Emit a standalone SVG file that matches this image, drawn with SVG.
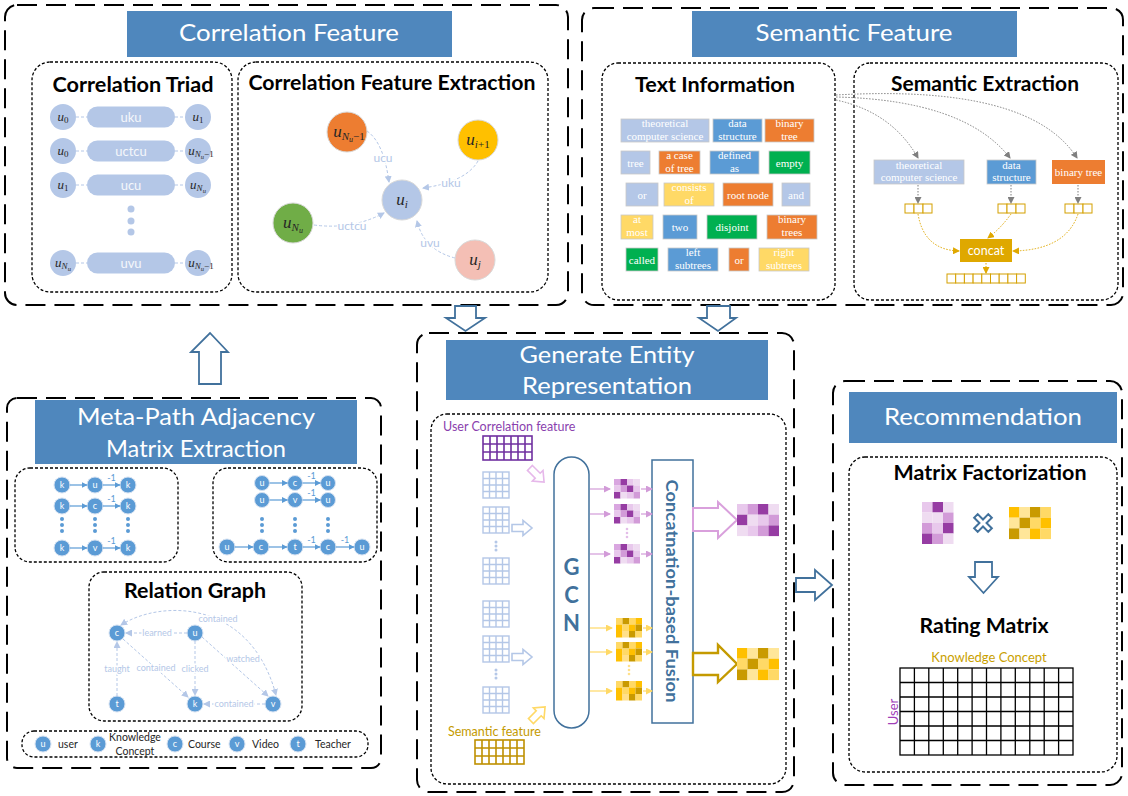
<svg xmlns="http://www.w3.org/2000/svg" xmlns:xlink="http://www.w3.org/1999/xlink" width="1128" height="796" viewBox="0 0 1128 796">
<style>
  .outer{fill:none;stroke:#000;stroke-width:2;stroke-dasharray:20 9}
  .inner{fill:#fff;stroke:#000;stroke-width:1.3;stroke-dasharray:3 2}
  .tbox{fill:#4f87bd}
  .ttl{font-family:Lato,"Open Sans",sans-serif;font-size:23px;fill:#fff;text-anchor:middle}
  .hd{font-family:Lato,"Open Sans",sans-serif;font-weight:bold;font-size:20px;fill:#000;text-anchor:middle}
  .m{font-family:"Liberation Serif","DejaVu Serif",serif;font-style:italic;fill:#262626;text-anchor:middle}
  .n{font-style:normal}
  .pill{fill:#b4c7e7}
  .pt{font-family:Lato,sans-serif;font-size:13px;fill:#f4f7fb;text-anchor:middle}
  .lbdash{fill:none;stroke:#b4c7e7;stroke-width:1;stroke-dasharray:3 2}
  .elab{font-family:Lato,sans-serif;font-size:12px;fill:#b4c7e7;text-anchor:middle;paint-order:stroke;stroke:#fff;stroke-width:3px}
  .rl{font-family:Lato,sans-serif;font-size:9px;fill:#b4c7e7;text-anchor:middle;paint-order:stroke;stroke:#fff;stroke-width:3px}
  .tb{font-family:"Liberation Serif","Times New Roman",serif;font-size:11px;fill:#fff;text-anchor:middle}
  .blk{stroke:#c8c8c8;stroke-width:0.8}
  .lb{fill:#b4c7e7}.bl{fill:#5b9bd5}.or{fill:#ed7d31}.gr{fill:#00b050}.ye{fill:#ffd966}
  .vec{fill:#fff;stroke:#d4a000;stroke-width:1}
  .grey{fill:none;stroke:#7f7f7f;stroke-width:1;stroke-dasharray:1.5 1.5}
  .gold{fill:none;stroke:#e0a800;stroke-width:1;stroke-dasharray:1.5 1.5}
  .mc{fill:#5b9bd5;stroke:#d6e2f2;stroke-width:1}
  .mt{font-family:Lato,sans-serif;font-size:9px;fill:#fff;text-anchor:middle}
  .ma{stroke:#5b9bd5;stroke-width:1.2;fill:none}
  .m1{font-family:Lato,sans-serif;font-size:9px;fill:#5b9bd5;text-anchor:middle}
  .mdot{fill:#5b9bd5}
  .leg{font-family:Lato,sans-serif;font-size:10.5px;fill:#262626}
  .blockarrow{fill:#fff;stroke:#41719c;stroke-width:1.8}
  .gcn{fill:#fff;stroke:#41719c;stroke-width:1.5}
  .gcnt{font-family:Lato,"Open Sans",sans-serif;font-weight:bold;font-size:22px;fill:#41719c;text-anchor:middle}
</style>
<defs>
  <marker id="aLB" markerUnits="userSpaceOnUse" markerWidth="7" markerHeight="7" refX="6" refY="3.5" orient="auto"><path d="M0,0 L7,3.5 L0,7 z" fill="#b4c7e7"/></marker>
  <marker id="aLBs" markerUnits="userSpaceOnUse" markerWidth="7" markerHeight="7" refX="1" refY="3.5" orient="auto"><path d="M7,0 L0,3.5 L7,7 z" fill="#b4c7e7"/></marker>
  <marker id="aGrey" markerUnits="userSpaceOnUse" markerWidth="7" markerHeight="7" refX="6" refY="3.5" orient="auto"><path d="M0,0 L7,3.5 L0,7 z" fill="#7f7f7f"/></marker>
  <marker id="aGold" markerUnits="userSpaceOnUse" markerWidth="7" markerHeight="7" refX="6" refY="3.5" orient="auto"><path d="M0,0 L7,3.5 L0,7 z" fill="#e0a800"/></marker>
  <marker id="aBlue" markerUnits="userSpaceOnUse" markerWidth="6" markerHeight="6" refX="5.5" refY="3" orient="auto"><path d="M0,0 L6,3 L0,6 z" fill="#5b9bd5"/></marker>
  <marker id="aPur" markerUnits="userSpaceOnUse" markerWidth="7" markerHeight="7" refX="6" refY="3.5" orient="auto"><path d="M0,0 L7,3.5 L0,7 z" fill="#d29bd8"/></marker>
  <marker id="aYel" markerUnits="userSpaceOnUse" markerWidth="7" markerHeight="7" refX="6" refY="3.5" orient="auto"><path d="M0,0 L7,3.5 L0,7 z" fill="#ffd966"/></marker>

  <!-- 4x4 light blue feature grid -->
  <g id="g44"><rect x="0" y="0" width="26" height="26" fill="#fff" stroke="#b4c7e7" stroke-width="1.4"/>
    <path d="M6.5,0V26M13,0V26M19.5,0V26M0,6.5H26M0,13H26M0,19.5H26" stroke="#b4c7e7" stroke-width="1.4"/></g>
  <!-- 7x3 feature grids -->
  <g id="g73"><rect x="0" y="0" width="49" height="24" fill="#fff" stroke-width="1.6"/>
    <path d="M7,0V24M14,0V24M21,0V24M28,0V24M35,0V24M42,0V24M0,8H49M0,16H49" stroke-width="1.6"/></g>
  <!-- small hollow arrow pointing right -->
  <polygon id="sArrow" points="-10,-3.5 1,-3.5 1,-7.5 10,0 1,7.5 1,3.5 -10,3.5" fill="#fff" stroke-width="1.6"/>
  <!-- small purple embedding -->
  <g id="smP">
    <rect x="0" y="0" width="6.5" height="6.5" fill="#d9a6e0"/><rect x="6.5" y="0" width="6.5" height="6.5" fill="#963ca3"/><rect x="13" y="0" width="6.5" height="6.5" fill="#e8c8ec"/><rect x="19.5" y="0" width="6.5" height="6.5" fill="#efdcf1"/>
    <rect x="0" y="6.5" width="6.5" height="6.5" fill="#e8c8ec"/><rect x="6.5" y="6.5" width="6.5" height="6.5" fill="#d29bd8"/><rect x="13" y="6.5" width="6.5" height="6.5" fill="#963ca3"/><rect x="19.5" y="6.5" width="6.5" height="6.5" fill="#e8c8ec"/>
    <rect x="0" y="13" width="6.5" height="6.5" fill="#963ca3"/><rect x="6.5" y="13" width="6.5" height="6.5" fill="#efdcf1"/><rect x="13" y="13" width="6.5" height="6.5" fill="#e8c8ec"/><rect x="19.5" y="13" width="6.5" height="6.5" fill="#d29bd8"/>
  </g>
  <!-- small gold embedding -->
  <g id="smY">
    <rect x="0" y="0" width="6.5" height="6.5" fill="#ffd966"/><rect x="6.5" y="0" width="6.5" height="6.5" fill="#c99a00"/><rect x="13" y="0" width="6.5" height="6.5" fill="#ffd966"/><rect x="19.5" y="0" width="6.5" height="6.5" fill="#ffc000"/>
    <rect x="0" y="6.5" width="6.5" height="6.5" fill="#ffc000"/><rect x="6.5" y="6.5" width="6.5" height="6.5" fill="#ffd966"/><rect x="13" y="6.5" width="6.5" height="6.5" fill="#ffc000"/><rect x="19.5" y="6.5" width="6.5" height="6.5" fill="#c99a00"/>
    <rect x="0" y="13" width="6.5" height="6.5" fill="#ffc000"/><rect x="6.5" y="13" width="6.5" height="6.5" fill="#ffe08a"/><rect x="13" y="13" width="6.5" height="6.5" fill="#c99a00"/><rect x="19.5" y="13" width="6.5" height="6.5" fill="#ffd966"/>
  </g>
</defs>

<rect width="1128" height="796" fill="#fff"/>

<!-- ===== Correlation Feature ===== -->
<g id="correlation-feature">
  <rect class="outer" x="5" y="5" width="563" height="300" rx="12"/>
  <rect class="tbox" x="127" y="11" width="325" height="46"/>
  <text class="ttl" x="289" y="41" textLength="220" lengthAdjust="spacingAndGlyphs">Correlation Feature</text>

  <g id="correlation-triad">
    <rect class="inner" x="32" y="62" width="200" height="230" rx="18"/>
    <text class="hd" x="133" y="92" textLength="161" lengthAdjust="spacingAndGlyphs">Correlation Triad</text>
    <path class="lbdash" d="M76,117H87M175,117H185M76,151H87M175,151H185M76,185H87M175,185H185M76,263H87M175,263H185"/>
    <g id="triad-uku">
      <circle class="pill" cx="63" cy="117" r="13"/><rect class="pill" x="87" y="106.5" width="88" height="21" rx="10.5"/><circle class="pill" cx="198" cy="117" r="13"/>
      <text class="m" x="63" y="121" font-size="13">u<tspan class="n" font-size="9" dy="2">0</tspan></text>
      <text class="pt" x="131" y="121.5">uku</text>
      <text class="m" x="198" y="121" font-size="13">u<tspan class="n" font-size="9" dy="2">1</tspan></text>
    </g>
    <g id="triad-uctcu">
      <circle class="pill" cx="63" cy="151" r="13"/><rect class="pill" x="87" y="140.5" width="88" height="21" rx="10.5"/><circle class="pill" cx="198" cy="151" r="13"/>
      <text class="m" x="63" y="155" font-size="13">u<tspan class="n" font-size="9" dy="2">0</tspan></text>
      <text class="pt" x="131" y="155.5">uctcu</text>
      <text class="m" x="201" y="155" font-size="13">u<tspan font-size="9" dy="2">N</tspan><tspan font-size="6.5" dy="2">u</tspan><tspan class="n" font-size="9" dy="-2">−1</tspan></text>
    </g>
    <g id="triad-ucu">
      <circle class="pill" cx="63" cy="185" r="13"/><rect class="pill" x="87" y="174.5" width="88" height="21" rx="10.5"/><circle class="pill" cx="198" cy="185" r="13"/>
      <text class="m" x="63" y="189" font-size="13">u<tspan class="n" font-size="9" dy="2">1</tspan></text>
      <text class="pt" x="131" y="189.5">ucu</text>
      <text class="m" x="198" y="189" font-size="13">u<tspan font-size="9" dy="2">N</tspan><tspan font-size="6.5" dy="2">u</tspan></text>
    </g>
    <circle class="pill" cx="131" cy="209" r="3.5"/><circle class="pill" cx="131" cy="221" r="3.5"/><circle class="pill" cx="131" cy="232" r="3.5"/>
    <g id="triad-uvu">
      <circle class="pill" cx="63" cy="263" r="13"/><rect class="pill" x="87" y="252.5" width="88" height="21" rx="10.5"/><circle class="pill" cx="198" cy="263" r="13"/>
      <text class="m" x="63" y="267" font-size="13">u<tspan font-size="9" dy="2">N</tspan><tspan font-size="6.5" dy="2">u</tspan></text>
      <text class="pt" x="131" y="267.5">uvu</text>
      <text class="m" x="201" y="267" font-size="13">u<tspan font-size="9" dy="2">N</tspan><tspan font-size="6.5" dy="2">u</tspan><tspan class="n" font-size="9" dy="-2">−1</tspan></text>
    </g>
  </g>

  <g id="correlation-extraction">
    <rect class="inner" x="238" y="62" width="310" height="230" rx="18"/>
    <text class="hd" x="392" y="90" textLength="287" lengthAdjust="spacingAndGlyphs">Correlation Feature Extraction</text>
    <g id="cfe-edges">
      <path class="lbdash" d="M367,131 C380,140 386,160 389,182" marker-end="url(#aLB)"/>
      <path class="lbdash" d="M478,161 Q466,182 423,188" marker-end="url(#aLB)"/>
      <path class="lbdash" d="M314,225 Q352,230 384,213" marker-end="url(#aLB)"/>
      <path class="lbdash" d="M455,258 Q424,250 417,221" marker-end="url(#aLB)"/>
      <text class="elab" x="383" y="162">ucu</text>
      <text class="elab" x="451" y="187">uku</text>
      <text class="elab" x="352" y="230">uctcu</text>
      <text class="elab" x="430" y="247">uvu</text>
    </g>
    <g id="node-uN1"><circle cx="347" cy="132" r="20" fill="#ed7d31" stroke="#d9d9d9"/>
      <text class="m" x="349" y="137" font-size="17">u<tspan font-size="11" dy="3">N</tspan><tspan font-size="8" dy="2">u</tspan><tspan class="n" font-size="11" dy="-2">−1</tspan></text></g>
    <g id="node-ui1"><circle cx="478" cy="140" r="20" fill="#ffc000" stroke="#d9d9d9"/>
      <text class="m" x="478" y="145" font-size="17">u<tspan font-size="11" dy="3">i</tspan><tspan class="n" font-size="11">+1</tspan></text></g>
    <g id="node-ui"><circle cx="402" cy="200" r="20" fill="#b4c7e7" stroke="#d9d9d9"/>
      <text class="m" x="402" y="205" font-size="17">u<tspan font-size="11" dy="3">i</tspan></text></g>
    <g id="node-uN"><circle cx="293" cy="223" r="20" fill="#70ad47" stroke="#d9d9d9"/>
      <text class="m" x="293" y="228" font-size="17">u<tspan font-size="11" dy="3">N</tspan><tspan font-size="8" dy="2">u</tspan></text></g>
    <g id="node-uj"><circle cx="475" cy="260" r="20" fill="#f4bfb5" stroke="#d9d9d9"/>
      <text class="m" x="475" y="265" font-size="17">u<tspan font-size="11" dy="3">j</tspan></text></g>
  </g>
</g>

<!-- ===== Semantic Feature ===== -->
<g id="semantic-feature">
  <rect class="outer" x="582" y="8" width="541" height="297" rx="12"/>
  <rect class="tbox" x="692" y="11" width="325" height="46"/>
  <text class="ttl" x="854" y="41" textLength="197" lengthAdjust="spacingAndGlyphs">Semantic Feature</text>

  <g id="text-information">
    <rect class="inner" x="602" y="63" width="233" height="237" rx="16"/>
    <text class="hd" x="715" y="92" textLength="160" lengthAdjust="spacingAndGlyphs">Text Information</text>
    <!-- row 1 -->
    <rect class="lb blk" x="621" y="119" width="88" height="23"/><text class="tb" x="665" y="127"><tspan x="665">theoretical</tspan><tspan x="665" dy="13">computer science</tspan></text>
    <rect class="bl blk" x="713" y="119" width="49" height="23"/><text class="tb" x="737.5" y="127"><tspan x="737.5">data</tspan><tspan x="737.5" dy="13">structure</tspan></text>
    <rect class="or blk" x="765" y="119" width="49" height="23"/><text class="tb" x="789.5" y="127"><tspan x="789.5">binary</tspan><tspan x="789.5" dy="13">tree</tspan></text>
    <!-- row 2 -->
    <rect class="lb blk" x="621" y="151" width="29" height="23"/><text class="tb" x="635.5" y="166.5">tree</text>
    <rect class="or blk" x="659" y="151" width="41" height="23"/><text class="tb" x="679.5" y="159"><tspan x="679.5">a case</tspan><tspan x="679.5" dy="13">of tree</tspan></text>
    <rect class="bl blk" x="710" y="151" width="49" height="23"/><text class="tb" x="734.5" y="159"><tspan x="734.5">defined</tspan><tspan x="734.5" dy="13">as</tspan></text>
    <rect class="gr blk" x="769" y="151" width="41" height="23"/><text class="tb" x="789.5" y="166.5">empty</text>
    <!-- row 3 -->
    <rect class="lb blk" x="626" y="183" width="32" height="23"/><text class="tb" x="642" y="198.5">or</text>
    <rect class="ye blk" x="664" y="183" width="50" height="23"/><text class="tb" x="689" y="191"><tspan x="689">consists</tspan><tspan x="689" dy="13">of</tspan></text>
    <rect class="or blk" x="723" y="183" width="50" height="23"/><text class="tb" x="748" y="198.5">root node</text>
    <rect class="lb blk" x="782" y="183" width="28" height="23"/><text class="tb" x="796" y="198.5">and</text>
    <!-- row 4 -->
    <rect class="ye blk" x="621" y="215" width="32" height="24"/><text class="tb" x="637" y="223"><tspan x="637">at</tspan><tspan x="637" dy="13">most</tspan></text>
    <rect class="bl blk" x="663" y="215" width="34" height="24"/><text class="tb" x="680" y="231">two</text>
    <rect class="gr blk" x="707" y="215" width="50" height="24"/><text class="tb" x="732" y="231">disjoint</text>
    <rect class="or blk" x="767" y="215" width="50" height="24"/><text class="tb" x="792" y="223"><tspan x="792">binary</tspan><tspan x="792" dy="13">trees</tspan></text>
    <!-- row 5 -->
    <rect class="gr blk" x="626" y="248" width="32" height="23"/><text class="tb" x="642" y="263.5">called</text>
    <rect class="bl blk" x="668" y="248" width="50" height="23"/><text class="tb" x="693" y="256"><tspan x="693">left</tspan><tspan x="693" dy="13">subtrees</tspan></text>
    <rect class="or blk" x="729" y="248" width="20" height="23"/><text class="tb" x="739" y="263.5">or</text>
    <rect class="ye blk" x="759" y="248" width="50" height="23"/><text class="tb" x="784" y="256"><tspan x="784">right</tspan><tspan x="784" dy="13">subtrees</tspan></text>
  </g>

  <g id="semantic-extraction">
    <rect class="inner" x="854" y="63" width="264" height="237" rx="16"/>
    <text class="hd" x="985" y="91" textLength="188" lengthAdjust="spacingAndGlyphs">Semantic Extraction</text>
    <g id="kw-theoretical"><rect class="lb blk" x="874" y="160" width="90" height="24"/>
      <text class="tb" x="919" y="169"><tspan x="919">theoretical</tspan><tspan x="919" dy="12">computer science</tspan></text></g>
    <g id="kw-data"><rect class="bl blk" x="987" y="160" width="49" height="24"/>
      <text class="tb" x="1011.5" y="169"><tspan x="1011.5">data</tspan><tspan x="1011.5" dy="12">structure</tspan></text></g>
    <g id="kw-binary"><rect class="or" x="1052" y="160" width="53" height="24"/>
      <text class="tb" x="1078.5" y="175.5">binary tree</text></g>
    <g id="vec-1"><rect class="vec" x="905" y="204" width="9" height="9"/><rect class="vec" x="914" y="204" width="9" height="9"/><rect class="vec" x="923" y="204" width="9" height="9"/></g>
    <g id="vec-2"><rect class="vec" x="998" y="204" width="9" height="9"/><rect class="vec" x="1007" y="204" width="9" height="9"/><rect class="vec" x="1016" y="204" width="9" height="9"/></g>
    <g id="vec-3"><rect class="vec" x="1065" y="204" width="9" height="9"/><rect class="vec" x="1074" y="204" width="9" height="9"/><rect class="vec" x="1083" y="204" width="9" height="9"/></g>
    <g id="concat"><rect x="960" y="239" width="52" height="23" fill="#dfa800"/>
      <text x="986" y="255" font-family="Lato,sans-serif" font-size="12.5" fill="#fff" text-anchor="middle">concat</text></g>
    <g id="vec-out">
      <rect class="vec" x="947" y="274" width="8.7" height="9"/><rect class="vec" x="955.7" y="274" width="8.7" height="9"/><rect class="vec" x="964.4" y="274" width="8.7" height="9"/>
      <rect class="vec" x="973.1" y="274" width="8.7" height="9"/><rect class="vec" x="981.8" y="274" width="8.7" height="9"/><rect class="vec" x="990.5" y="274" width="8.7" height="9"/>
      <rect class="vec" x="999.2" y="274" width="8.7" height="9"/><rect class="vec" x="1007.9" y="274" width="8.7" height="9"/><rect class="vec" x="1016.6" y="274" width="8.7" height="9"/>
    </g>
  </g>
</g>

<!-- ===== Meta-Path Adjacency Matrix Extraction ===== -->
<g id="meta-path">
  <rect class="outer" x="7" y="398" width="374" height="370" rx="10"/>
  <rect class="tbox" x="35" y="400" width="322" height="64"/>
  <text class="ttl" x="196" y="425" textLength="238" lengthAdjust="spacingAndGlyphs">Meta-Path Adjacency</text>
  <text class="ttl" x="196" y="457" textLength="180" lengthAdjust="spacingAndGlyphs">Matrix Extraction</text>

  <g id="metapath-k">
    <rect class="inner" x="15" y="468" width="163" height="94" rx="15"/>
    <g class="mdot"><circle cx="62" cy="519" r="2"/><circle cx="62" cy="525" r="2"/><circle cx="62" cy="531" r="2"/>
      <circle cx="95" cy="519" r="2"/><circle cx="95" cy="525" r="2"/><circle cx="95" cy="531" r="2"/>
      <circle cx="128" cy="519" r="2"/><circle cx="128" cy="525" r="2"/><circle cx="128" cy="531" r="2"/></g>
    <circle class="mc" cx="62" cy="485" r="8"/><circle class="mc" cx="95" cy="485" r="8"/><circle class="mc" cx="128" cy="485" r="8"/>
    <text class="mt" x="62" y="488">k</text><text class="mt" x="95" y="488">u</text><text class="mt" x="128" y="488">k</text>
    <circle class="mc" cx="62" cy="506" r="8"/><circle class="mc" cx="95" cy="506" r="8"/><circle class="mc" cx="128" cy="506" r="8"/>
    <text class="mt" x="62" y="509">k</text><text class="mt" x="95" y="509">c</text><text class="mt" x="128" y="509">k</text>
    <circle class="mc" cx="62" cy="548" r="8"/><circle class="mc" cx="95" cy="548" r="8"/><circle class="mc" cx="128" cy="548" r="8"/>
    <text class="mt" x="62" y="551">k</text><text class="mt" x="95" y="551">v</text><text class="mt" x="128" y="551">k</text>
    <text class="m1" x="111.5" y="481">-1</text><text class="m1" x="111.5" y="502">-1</text><text class="m1" x="111.5" y="544">-1</text>
  </g>

  <g id="metapath-u">
    <rect class="inner" x="213" y="468" width="164" height="94" rx="15"/>
    <g class="mdot"><circle cx="262" cy="519" r="2"/><circle cx="262" cy="525" r="2"/><circle cx="262" cy="531" r="2"/>
      <circle cx="295" cy="519" r="2"/><circle cx="295" cy="525" r="2"/><circle cx="295" cy="531" r="2"/>
      <circle cx="328" cy="519" r="2"/><circle cx="328" cy="525" r="2"/><circle cx="328" cy="531" r="2"/></g>
    <circle class="mc" cx="262" cy="483" r="7.5"/><circle class="mc" cx="295" cy="483" r="7.5"/><circle class="mc" cx="328" cy="483" r="7.5"/>
    <text class="mt" x="262" y="486">u</text><text class="mt" x="295" y="486">c</text><text class="mt" x="328" y="486">u</text>
    <circle class="mc" cx="262" cy="500" r="7.5"/><circle class="mc" cx="295" cy="500" r="7.5"/><circle class="mc" cx="328" cy="500" r="7.5"/>
    <text class="mt" x="262" y="503">u</text><text class="mt" x="295" y="503">v</text><text class="mt" x="328" y="503">u</text>
    <circle class="mc" cx="227" cy="547" r="8"/><circle class="mc" cx="261" cy="547" r="8"/><circle class="mc" cx="295" cy="547" r="8"/><circle class="mc" cx="328" cy="547" r="8"/><circle class="mc" cx="362" cy="547" r="8"/>
    <text class="mt" x="227" y="550">u</text><text class="mt" x="261" y="550">c</text><text class="mt" x="295" y="550">t</text><text class="mt" x="328" y="550">c</text><text class="mt" x="362" y="550">u</text>
    <text class="m1" x="311.5" y="479">-1</text><text class="m1" x="311.5" y="496">-1</text>
    <text class="m1" x="311.5" y="543">-1</text><text class="m1" x="345" y="543">-1</text>
  </g>

  <g id="relation-graph">
    <rect class="inner" x="89" y="572" width="213" height="149" rx="15"/>
    <text class="hd" x="195" y="598" textLength="142" lengthAdjust="spacingAndGlyphs">Relation Graph</text>
    <g id="rg-c"><circle class="mc" cx="117" cy="633" r="8"/><text class="mt" x="117" y="636">c</text></g>
    <g id="rg-u"><circle class="mc" cx="195" cy="633" r="8"/><text class="mt" x="195" y="636">u</text></g>
    <g id="rg-t"><circle class="mc" cx="117" cy="704" r="8"/><text class="mt" x="117" y="707">t</text></g>
    <g id="rg-k"><circle class="mc" cx="195" cy="704" r="8"/><text class="mt" x="195" y="707">k</text></g>
    <g id="rg-v"><circle class="mc" cx="273" cy="704" r="8"/><text class="mt" x="273" y="707">v</text></g>
  </g>

  <g id="legend">
    <rect class="inner" x="22" y="731" width="346" height="26" rx="12"/>
    <circle class="mc" cx="43" cy="744" r="8"/><text class="mt" x="43" y="747">u</text><text class="leg" x="58" y="748">user</text>
    <circle class="mc" cx="98" cy="744" r="8"/><text class="mt" x="98" y="747">k</text>
    <text class="leg" x="135" y="741" text-anchor="middle">Knowledge</text><text class="leg" x="135" y="755" text-anchor="middle">Concept</text>
    <circle class="mc" cx="175" cy="744" r="8"/><text class="mt" x="175" y="747">c</text><text class="leg" x="188" y="748">Course</text>
    <circle class="mc" cx="237" cy="744" r="8"/><text class="mt" x="237" y="747">v</text><text class="leg" x="252" y="748">Video</text>
    <circle class="mc" cx="298" cy="744" r="8"/><text class="mt" x="298" y="747">t</text><text class="leg" x="315" y="748">Teacher</text>
  </g>
</g>

<!-- ===== Generate Entity Representation ===== -->
<g id="generate-entity">
  <rect class="outer" x="417" y="333" width="377" height="459" rx="12"/>
  <rect class="tbox" x="446" y="340" width="322" height="60"/>
  <text class="ttl" x="607" y="363" textLength="175" lengthAdjust="spacingAndGlyphs">Generate Entity</text>
  <text class="ttl" x="607" y="394" textLength="170" lengthAdjust="spacingAndGlyphs">Representation</text>

  <rect class="inner" x="431" y="414" width="355" height="370" rx="16"/>
  <g id="user-feature">
    <text x="443" y="431" font-family="Lato,sans-serif" font-size="12.5" fill="#8a3fae">User Correlation feature</text>
    <use href="#g73" x="483" y="436" stroke="#7030a0"/>
  </g>
  <g id="adjacency-grids">
    <use href="#g44" x="483" y="472"/><use href="#g44" x="483" y="507"/><use href="#g44" x="483" y="558"/>
    <use href="#g44" x="483" y="601"/><use href="#g44" x="483" y="636"/><use href="#g44" x="483" y="687"/>
    <circle cx="496" cy="542" r="1.5" fill="#b4c7e7"/><circle cx="496" cy="546" r="1.5" fill="#b4c7e7"/><circle cx="496" cy="550" r="1.5" fill="#b4c7e7"/>
    <circle cx="496" cy="670" r="1.5" fill="#b4c7e7"/><circle cx="496" cy="674" r="1.5" fill="#b4c7e7"/><circle cx="496" cy="678" r="1.5" fill="#b4c7e7"/>
  </g>
  <g id="semantic-input">
    <text x="448" y="736" font-family="Lato,sans-serif" font-size="12.5" fill="#c49a00">Semantic feature</text>
    <use href="#g73" x="475" y="740" stroke="#bf9000"/>
  </g>
  <g id="input-arrows">
    <use href="#sArrow" transform="translate(537,475) rotate(45)" stroke="#e6b8ea"/>
    <use href="#sArrow" transform="translate(522,528)" stroke="#b4c7e7"/>
    <use href="#sArrow" transform="translate(522,657)" stroke="#b4c7e7"/>
    <use href="#sArrow" transform="translate(538,714) rotate(-45)" stroke="#ffd966"/>
  </g>
  <g id="gcn">
    <rect class="gcn" x="554" y="457" width="35" height="271" rx="17.5"/>
    <text class="gcnt" x="571.5" y="575">G</text>
    <text class="gcnt" x="571.5" y="603">C</text>
    <text class="gcnt" x="571.5" y="631">N</text>
  </g>
  <g id="user-embeddings">
    <use href="#smP" x="614" y="479"/><use href="#smP" x="614" y="504"/><use href="#smP" x="614" y="544"/>
    <circle cx="627" cy="529" r="1.3" fill="#e3bde8"/><circle cx="627" cy="533" r="1.3" fill="#e3bde8"/><circle cx="627" cy="537" r="1.3" fill="#e3bde8"/>
  </g>
  <g id="concept-embeddings">
    <use href="#smY" x="616" y="618"/><use href="#smY" x="616" y="642"/><use href="#smY" x="616" y="681"/>
    <circle cx="629" cy="666" r="1.3" fill="#ffe08a"/><circle cx="629" cy="670" r="1.3" fill="#ffe08a"/><circle cx="629" cy="674" r="1.3" fill="#ffe08a"/>
  </g>
  <g id="fusion">
    <rect class="gcn" x="652" y="460" width="41" height="263"/>
    <text transform="translate(666,591) rotate(90)" font-family="Lato,'Open Sans',sans-serif" font-weight="bold" font-size="17" fill="#41719c" text-anchor="middle" textLength="223" lengthAdjust="spacingAndGlyphs">Concatnation-based Fusion</text>
  </g>
  <g id="output-arrows">
    <polygon points="693,508 718,508 718,502 737,520 718,538 718,531 693,531" fill="#fff" stroke="#d9a0dc" stroke-width="2"/>
    <polygon points="693,653 718,653 718,645 737,664 718,682 718,675 693,675" fill="#fff" stroke="#c49a00" stroke-width="2.4"/>
  </g>
  <g id="user-representation">
    <rect x="737" y="504" width="10.5" height="10.7" fill="#e8c8ec"/><rect x="747.5" y="504" width="10.5" height="10.7" fill="#d29bd8"/><rect x="758" y="504" width="10.5" height="10.7" fill="#963ca3"/><rect x="768.5" y="504" width="10.5" height="10.7" fill="#efdcf1"/>
    <rect x="737" y="514.7" width="10.5" height="10.7" fill="#963ca3"/><rect x="747.5" y="514.7" width="10.5" height="10.7" fill="#efdcf1"/><rect x="758" y="514.7" width="10.5" height="10.7" fill="#e8c8ec"/><rect x="768.5" y="514.7" width="10.5" height="10.7" fill="#d29bd8"/>
    <rect x="737" y="525.4" width="10.5" height="10.7" fill="#efdcf1"/><rect x="747.5" y="525.4" width="10.5" height="10.7" fill="#e8c8ec"/><rect x="758" y="525.4" width="10.5" height="10.7" fill="#d29bd8"/><rect x="768.5" y="525.4" width="10.5" height="10.7" fill="#963ca3"/>
  </g>
  <g id="concept-representation">
    <rect x="737" y="648" width="10.5" height="10.7" fill="#ffc000"/><rect x="747.5" y="648" width="10.5" height="10.7" fill="#ffe699"/><rect x="758" y="648" width="10.5" height="10.7" fill="#c99a00"/><rect x="768.5" y="648" width="10.5" height="10.7" fill="#ffe699"/>
    <rect x="737" y="658.7" width="10.5" height="10.7" fill="#ffd966"/><rect x="747.5" y="658.7" width="10.5" height="10.7" fill="#c99a00"/><rect x="758" y="658.7" width="10.5" height="10.7" fill="#ffd966"/><rect x="768.5" y="658.7" width="10.5" height="10.7" fill="#ffc000"/>
    <rect x="737" y="669.4" width="10.5" height="10.7" fill="#c99a00"/><rect x="747.5" y="669.4" width="10.5" height="10.7" fill="#ffe699"/><rect x="758" y="669.4" width="10.5" height="10.7" fill="#ffc000"/><rect x="768.5" y="669.4" width="10.5" height="10.7" fill="#ffd966"/>
  </g>
</g>

<!-- ===== Recommendation ===== -->
<g id="recommendation">
  <rect class="outer" x="833" y="381" width="289" height="404" rx="12"/>
  <rect class="tbox" x="849" y="392" width="268" height="51"/>
  <text class="ttl" x="983" y="425" textLength="198" lengthAdjust="spacingAndGlyphs">Recommendation</text>
  <rect class="inner" x="849" y="457" width="268" height="315" rx="16"/>
  <text class="hd" x="990" y="480" textLength="193" lengthAdjust="spacingAndGlyphs">Matrix Factorization</text>
  <g id="user-factor">
    <rect x="922" y="502" width="10.5" height="10.5" fill="#e8c8ec"/><rect x="932.5" y="502" width="10.5" height="10.5" fill="#963ca3"/><rect x="943" y="502" width="10.5" height="10.5" fill="#efdcf1"/>
    <rect x="922" y="512.5" width="10.5" height="10.5" fill="#efdcf1"/><rect x="932.5" y="512.5" width="10.5" height="10.5" fill="#efdcf1"/><rect x="943" y="512.5" width="10.5" height="10.5" fill="#d29bd8"/>
    <rect x="922" y="523" width="10.5" height="10.5" fill="#d29bd8"/><rect x="932.5" y="523" width="10.5" height="10.5" fill="#e8c8ec"/><rect x="943" y="523" width="10.5" height="10.5" fill="#963ca3"/>
    <rect x="922" y="533.5" width="10.5" height="10.5" fill="#963ca3"/><rect x="932.5" y="533.5" width="10.5" height="10.5" fill="#d29bd8"/><rect x="943" y="533.5" width="10.5" height="10.5" fill="#efdcf1"/>
  </g>
  <polygon transform="translate(983,523) rotate(45)" points="-2.5,-10 2.5,-10 2.5,-2.5 10,-2.5 10,2.5 2.5,2.5 2.5,10 -2.5,10 -2.5,2.5 -10,2.5 -10,-2.5 -2.5,-2.5" fill="#fff" stroke="#41719c" stroke-width="2"/>
  <g id="concept-factor">
    <rect x="1009" y="507" width="10.5" height="10.7" fill="#ffc000"/><rect x="1019.5" y="507" width="10.5" height="10.7" fill="#ffe699"/><rect x="1030" y="507" width="10.5" height="10.7" fill="#c99a00"/><rect x="1040.5" y="507" width="10.5" height="10.7" fill="#ffd966"/>
    <rect x="1009" y="517.7" width="10.5" height="10.7" fill="#ffe699"/><rect x="1019.5" y="517.7" width="10.5" height="10.7" fill="#c99a00"/><rect x="1030" y="517.7" width="10.5" height="10.7" fill="#ffd966"/><rect x="1040.5" y="517.7" width="10.5" height="10.7" fill="#ffc000"/>
    <rect x="1009" y="528.4" width="10.5" height="10.7" fill="#c99a00"/><rect x="1019.5" y="528.4" width="10.5" height="10.7" fill="#ffe699"/><rect x="1030" y="528.4" width="10.5" height="10.7" fill="#ffc000"/><rect x="1040.5" y="528.4" width="10.5" height="10.7" fill="#ffd966"/>
  </g>
  <polygon class="blockarrow" points="975,562 992,562 992,577 998,577 983.5,593 969,577 975,577"/>
  <text class="hd" x="984" y="633" textLength="129" lengthAdjust="spacingAndGlyphs">Rating Matrix</text>
  <text x="989" y="662" font-family="Lato,sans-serif" font-size="13" fill="#c9a000" text-anchor="middle">Knowledge Concept</text>
  <text transform="translate(898,712) rotate(-90)" font-family="Lato,sans-serif" font-size="13" fill="#a040b8" text-anchor="middle">User</text>
  <g id="rating-grid">
    <rect x="900" y="668" width="173" height="87" fill="#fff" stroke="#000" stroke-width="1.3"/>
    <path d="M914.4,668V755M928.8,668V755M943.3,668V755M957.7,668V755M972.1,668V755M986.5,668V755M1000.9,668V755M1015.3,668V755M1029.8,668V755M1044.2,668V755M1058.6,668V755M900,682.5H1073M900,697H1073M900,711.5H1073M900,726H1073M900,740.5H1073" stroke="#000" stroke-width="1.3" fill="none"/>
  </g>
</g>

<!-- ===== Connectors ===== -->
<g id="connectors">
  <!-- block arrows between stages -->
  <polygon class="blockarrow" points="199,384 221,384 221,352 228,352 210,333 191,352 199,352"/>
  <polygon class="blockarrow" points="455,306 476,306 476,318 485,318 465.5,331 446,318 455,318"/>
  <polygon class="blockarrow" points="707,306 730,306 730,318 736,318 718,331 699,318 707,318"/>
  <polygon class="blockarrow" points="796,578 815,578 815,570 832,585 815,600 815,592 796,592"/>

  <!-- keyword lookups -->
  <path class="grey" d="M836,100 Q892,112 918,158" marker-end="url(#aGrey)"/>
  <path class="grey" d="M836,97 Q965,100 1010,158" marker-end="url(#aGrey)"/>
  <path class="grey" d="M836,95 Q1030,84 1077,158" marker-end="url(#aGrey)"/>
  <path class="grey" d="M918,185V203" marker-end="url(#aGrey)"/>
  <path class="grey" d="M1011,185V203" marker-end="url(#aGrey)"/>
  <path class="grey" d="M1078,185V203" marker-end="url(#aGrey)"/>
  <path class="gold" d="M918,214 Q924,250 959,251" marker-end="url(#aGold)"/>
  <path class="gold" d="M1011,214 Q1001,228 988,238" marker-end="url(#aGold)"/>
  <path class="gold" d="M1078,214 Q1066,250 1013,251" marker-end="url(#aGold)"/>
  <path class="gold" d="M986,263V273" marker-end="url(#aGold)"/>

  <!-- meta-path steps -->
  <path class="ma" d="M70,485H87" marker-end="url(#aBlue)"/><path class="ma" d="M103,485H120" marker-end="url(#aBlue)"/>
  <path class="ma" d="M70,506H87" marker-end="url(#aBlue)"/><path class="ma" d="M103,506H120" marker-end="url(#aBlue)"/>
  <path class="ma" d="M70,548H87" marker-end="url(#aBlue)"/><path class="ma" d="M103,548H120" marker-end="url(#aBlue)"/>
  <path class="ma" d="M269.5,483H287.5" marker-end="url(#aBlue)"/><path class="ma" d="M302.5,483H320.5" marker-end="url(#aBlue)"/>
  <path class="ma" d="M269.5,500H287.5" marker-end="url(#aBlue)"/><path class="ma" d="M302.5,500H320.5" marker-end="url(#aBlue)"/>
  <path class="ma" d="M235,547H253" marker-end="url(#aBlue)"/><path class="ma" d="M269,547H287" marker-end="url(#aBlue)"/>
  <path class="ma" d="M303,547H320" marker-end="url(#aBlue)"/><path class="ma" d="M336,547H354" marker-end="url(#aBlue)"/>

  <!-- relation graph edges -->
  <path class="lbdash" d="M187,633H126" marker-end="url(#aLB)"/>
  <path class="lbdash" d="M117,696V642" marker-end="url(#aLB)"/>
  <path class="lbdash" d="M123,639L188,697" marker-end="url(#aLB)"/>
  <path class="lbdash" d="M195,641V695" marker-end="url(#aLB)"/>
  <path class="lbdash" d="M202,637L268,696" marker-end="url(#aLB)"/>
  <path class="lbdash" d="M265,704H204" marker-end="url(#aLB)"/>
  <path class="lbdash" d="M121,625 C160,600 250,598 276,695" marker-start="url(#aLBs)" marker-end="url(#aLB)"/>
  <text class="rl" x="157" y="636">learned</text>
  <text class="rl" x="117" y="672">taught</text>
  <text class="rl" x="156" y="671">contained</text>
  <text class="rl" x="195" y="672">clicked</text>
  <text class="rl" x="243" y="662">watched</text>
  <text class="rl" x="234" y="707">contained</text>
  <text class="rl" x="218" y="622">contained</text>

  <!-- GCN outputs into fusion -->
  <path d="M590,489H610" stroke="#d29bd8" stroke-width="1.2" marker-end="url(#aPur)"/>
  <path d="M590,514H610" stroke="#d29bd8" stroke-width="1.2" marker-end="url(#aPur)"/>
  <path d="M590,554H610" stroke="#d29bd8" stroke-width="1.2" marker-end="url(#aPur)"/>
  <path d="M641,489H652" stroke="#d29bd8" stroke-width="1.2" marker-end="url(#aPur)"/>
  <path d="M641,514H652" stroke="#d29bd8" stroke-width="1.2" marker-end="url(#aPur)"/>
  <path d="M641,554H652" stroke="#d29bd8" stroke-width="1.2" marker-end="url(#aPur)"/>
  <path d="M590,628H612" stroke="#ffd966" stroke-width="1.2" marker-end="url(#aYel)"/>
  <path d="M590,652H612" stroke="#ffd966" stroke-width="1.2" marker-end="url(#aYel)"/>
  <path d="M590,691H612" stroke="#ffd966" stroke-width="1.2" marker-end="url(#aYel)"/>
  <path d="M643,628H652" stroke="#ffd966" stroke-width="1.2" marker-end="url(#aYel)"/>
  <path d="M643,652H652" stroke="#ffd966" stroke-width="1.2" marker-end="url(#aYel)"/>
  <path d="M643,691H652" stroke="#ffd966" stroke-width="1.2" marker-end="url(#aYel)"/>
</g>
</svg>
